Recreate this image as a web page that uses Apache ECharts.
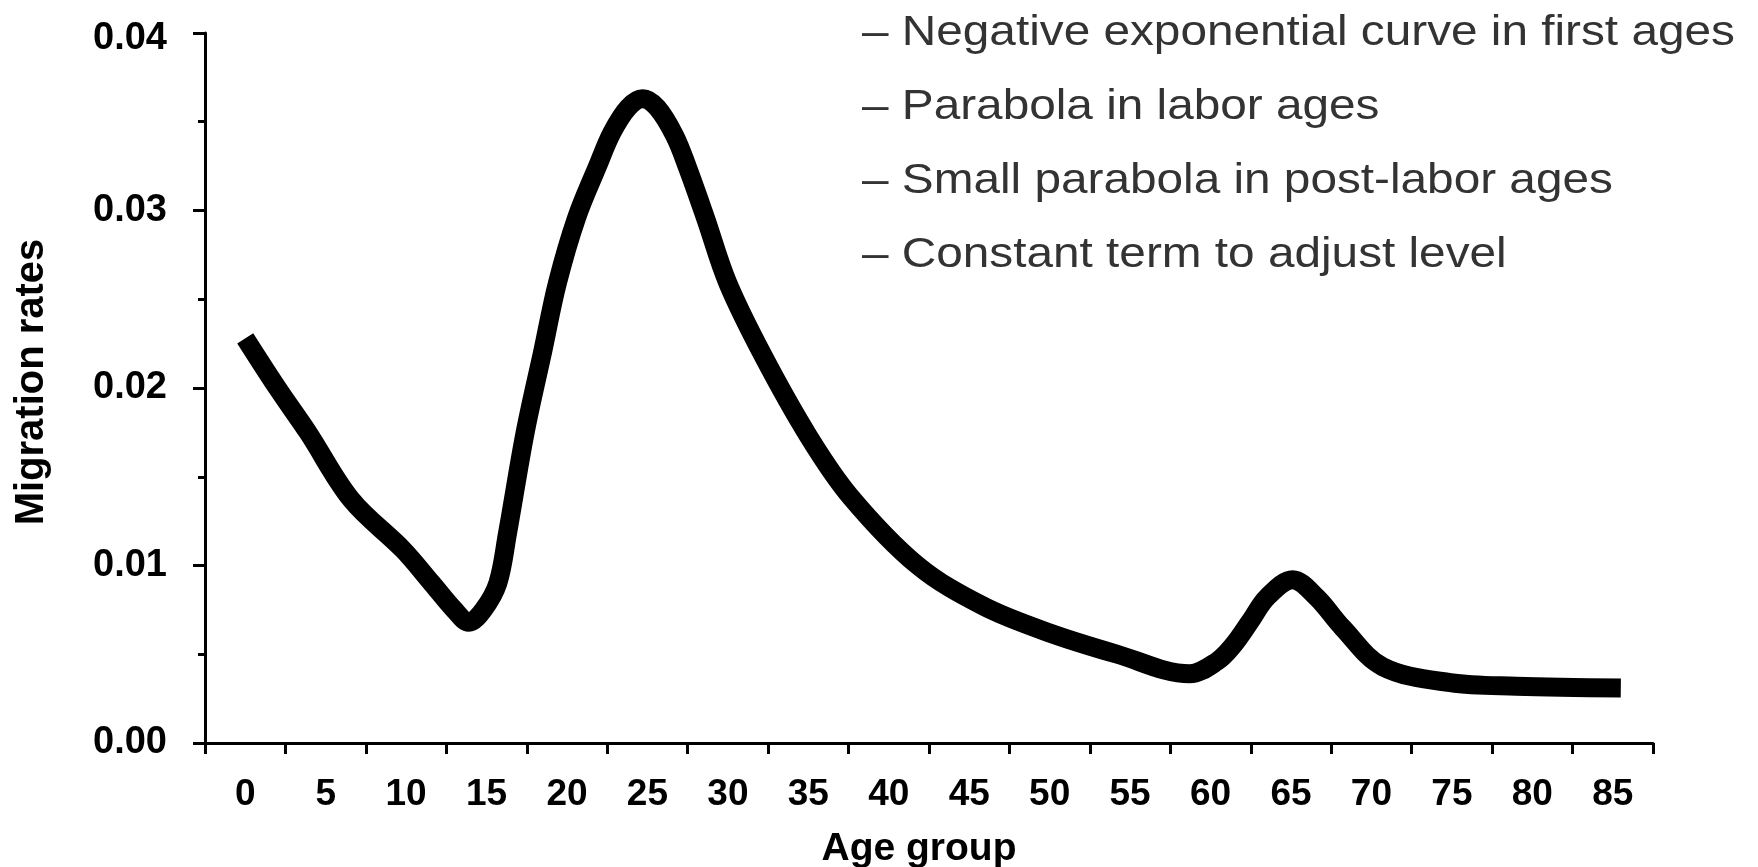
<!DOCTYPE html>
<html>
<head>
<meta charset="utf-8">
<script src="https://cdn.jsdelivr.net/npm/echarts@6/dist/echarts.min.js"></script>
<style>
  html, body { margin: 0; padding: 0; background: #fff; }
  #chart { width: 1758px; height: 867px; }
</style>
</head>
<body>
<div id="chart"></div>
<script>
// age groups on the axis
const ageGroups = ['0', '5', '10', '15', '20', '25', '30', '35', '40', '45', '50', '55', '60', '65', '70', '75', '80', '85']

// curve (age, rate)
const ages = [0, 2, 3.9, 6.6, 9.8, 11.6, 13, 13.9, 14.8, 15.7, 16.3, 17.4, 18.5, 19.4, 20.6, 21.9, 22.8, 23.8,
  24.7, 25.6, 26.7, 27.5, 28.6, 30, 32.2, 35, 37.6, 41.8, 45.9, 50, 54.2, 58.7, 60.4, 61.4, 62.5, 63.5,
  65.1, 66.6, 68.2, 70.7, 74.9, 79, 85.5]
const rates = [0.0228, 0.0200, 0.0175, 0.0137, 0.0109, 0.0090, 0.0075, 0.0068, 0.0075, 0.0090, 0.0118, 0.0175,
  0.0221, 0.0259, 0.0296, 0.0325, 0.0344, 0.0358, 0.0363, 0.0358, 0.0342, 0.0324, 0.0296, 0.0259, 0.0218,
  0.0173, 0.0139, 0.0100, 0.0077, 0.0062, 0.0050, 0.0039, 0.0046, 0.0055, 0.0069, 0.0082, 0.0092, 0.0082,
  0.0065, 0.0043, 0.0034, 0.0032, 0.0031]

const notes = [
  '\u2013 Negative exponential curve in first ages',
  '\u2013 Parabola in labor ages',
  '\u2013 Small parabola in post-labor ages',
  '\u2013 Constant term to adjust level',
]

const boldFont = 'Liberation Sans, Arial, sans-serif'

const chart = echarts.init(document.getElementById('chart'))
chart.setOption({
  animation: false,
  backgroundColor: '#fff',
  grid: { left: 205, right: 105, top: 33, bottom: 124, containLabel: false, outerBoundsMode: 'none' },
  xAxis: [
    {
      type: 'category',
      data: ageGroups,
      boundaryGap: true,
      axisLine: { lineStyle: { color: '#000', width: 3 } },
      axisTick: { show: true, length: 11, lineStyle: { color: '#000', width: 3 } },
      axisLabel: { color: '#000', fontFamily: boldFont, fontWeight: 'bold', fontSize: 37, margin: 33, interval: 0 },
      name: 'Age group',
      nameLocation: 'middle',
      nameGap: 87,
      nameTextStyle: { color: '#000', fontFamily: boldFont, fontWeight: 'bold', fontSize: 39, padding: [0, 20, 0, 0] },
    },
    { type: 'value', min: -2.5, max: 87.5, show: false },
  ],
  yAxis: {
    type: 'value',
    min: 0,
    max: 0.04,
    interval: 0.01,
    splitLine: { show: false },
    axisLine: { show: true, onZero: false, lineStyle: { color: '#000', width: 3 } },
    axisTick: { show: true, length: 12, lineStyle: { color: '#000', width: 3 } },
    minorTick: { show: true, splitNumber: 2, length: 7, lineStyle: { color: '#000', width: 3 } },
    axisLabel: {
      color: '#000', fontFamily: boldFont, fontWeight: 'bold', fontSize: 38, margin: 38,
      formatter: v => (v >= 0.04 ? '{top|' + v.toFixed(2) + '}' : v.toFixed(2)),
      rich: { top: { color: '#000', fontFamily: boldFont, fontWeight: 'bold', fontSize: 38, padding: [12, 0, 0, 0] } },
    },
    name: 'Migration rates',
    nameLocation: 'middle',
    nameGap: 153,
    nameTextStyle: { color: '#000', fontFamily: boldFont, fontWeight: 'bold', fontSize: 40, padding: [0, 0, 0, 12] },
  },
  series: [{
    type: 'line',
    xAxisIndex: 1,
    data: ages.map((a, i) => [a, rates[i]]),
    smooth: 0.35,
    showSymbol: false,
    lineStyle: { color: '#000', width: 19, cap: 'butt', join: 'round' },
  }],
  graphic: notes.map((t, i) => ({
    type: 'text',
    x: 862,
    y: 33 + i * 74,
    scaleX: 1.11,
    style: { text: t, font: '43px Liberation Sans, Arial, sans-serif', fill: '#333', verticalAlign: 'middle' },
  })),
})
</script>
</body>
</html>
